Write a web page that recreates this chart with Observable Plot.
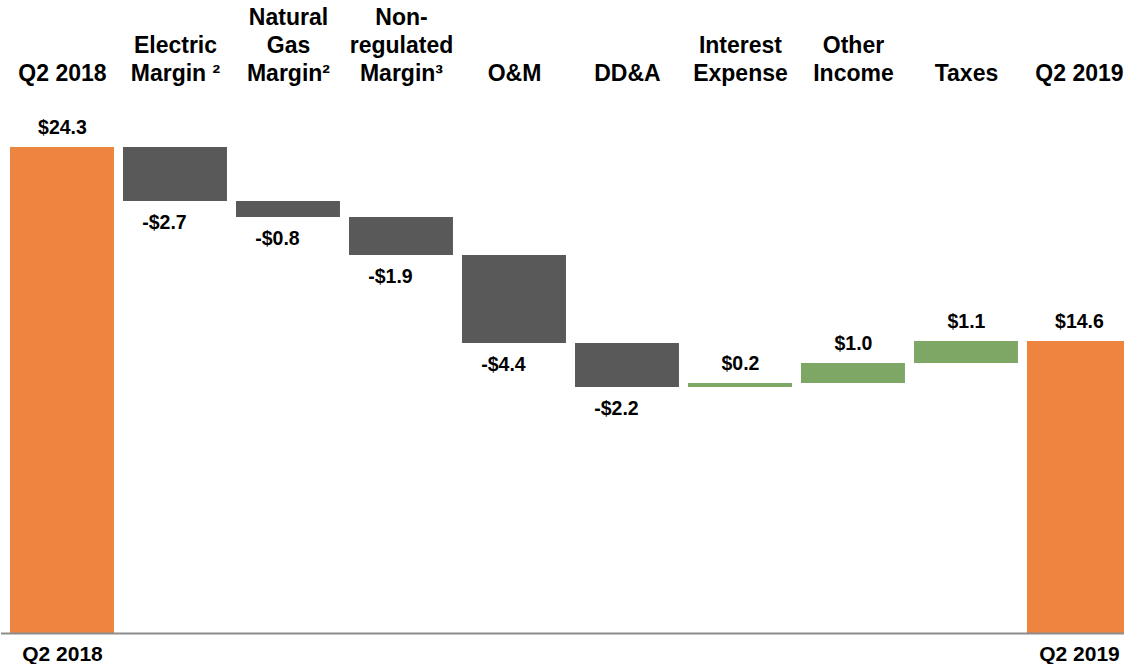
<!DOCTYPE html>
<html><head><meta charset="utf-8">
<script src="https://cdn.jsdelivr.net/npm/d3@7"></script>
<script src="https://cdn.jsdelivr.net/npm/@observablehq/plot@0.6"></script>
<style>
html,body{margin:0;padding:0;background:#fff;overflow:hidden}
#chart svg{display:block;max-width:none !important}
</style></head><body><div id="chart"></div>
<script>
const categories = ["Q2 2018","Electric Margin","Natural Gas Margin","Non-regulated Margin","O&M","DD&A","Interest Expense","Other Income","Taxes","Q2 2019"];
const headerLabels = ["Q2 2018","Electric\nMargin ²","Natural\nGas\nMargin²","Non-\nregulated\nMargin³","O&M","DD&A","Interest\nExpense","Other\nIncome","Taxes","Q2 2019"];
const values = [24.3,-2.7,-0.8,-1.9,-4.4,-2.2,0.2,1.0,1.1,14.6];
const kinds = ["total","decrease","decrease","decrease","decrease","decrease","increase","increase","increase","total"];
const axisLabels = ["Q2 2018","Q2 2019"];

let running = 0;
const rows = categories.map((c, i) => {
  let y1, y2;
  if (kinds[i] === "total") { y1 = 0; y2 = values[i]; running = values[i]; }
  else { y1 = running; y2 = running + values[i]; running = y2; }
  const v = values[i];
  const label = (v < 0 ? "-$" : "$") + Math.abs(v).toFixed(1);
  return {cat: c, header: headerLabels[i], kind: kinds[i], y1, y2, lo: Math.min(y1,y2), hi: Math.max(y1,y2), label};
});

const font = "'Liberation Sans', Arial, sans-serif";
const chart = Plot.plot({
  width: 1140, height: 664,
  marginLeft: 0.96, marginRight: 0, marginTop: 147, marginBottom: 31,
  style: {fontFamily: font, background: "#fff"},
  x: {domain: categories, padding: 0.08, round: false, label: null},
  y: {domain: [0, 24.3], axis: null},
  color: {domain: ["total","decrease","increase"], range: ["#ED843F","#595959","#7EA766"]},
  marks: [
    Plot.barY(rows, {x: "cat", y1: "lo", y2: "hi", fill: "kind"}),
    Plot.ruleY([0], {stroke: "#8C8C8C", strokeWidth: 2}),
    Plot.axisX(axisLabels, {anchor: "bottom", tickSize: 0, tickPadding: 13, label: null, fontSize: 21, fontWeight: "bold", fill: "#000"}),
    Plot.text(rows.filter(d => d.kind !== "decrease"), {x: "cat", y: "hi", text: "label", dy: -20, fontSize: 19.5, fontWeight: "bold", fill: "#000"}),
    Plot.text(rows.filter(d => d.kind === "decrease"), {x: "cat", y: "lo", text: "label", dx: -11, dy: 21, fontSize: 19.5, fontWeight: "bold", fill: "#000"}),
    Plot.text(rows, {x: "cat", text: "header", frameAnchor: "top", lineAnchor: "bottom", dy: -67, lineHeight: 1.2, fontSize: 23, fontWeight: "bold", fill: "#000"})
  ]
});
document.getElementById("chart").appendChild(chart);
</script>
</body></html>
